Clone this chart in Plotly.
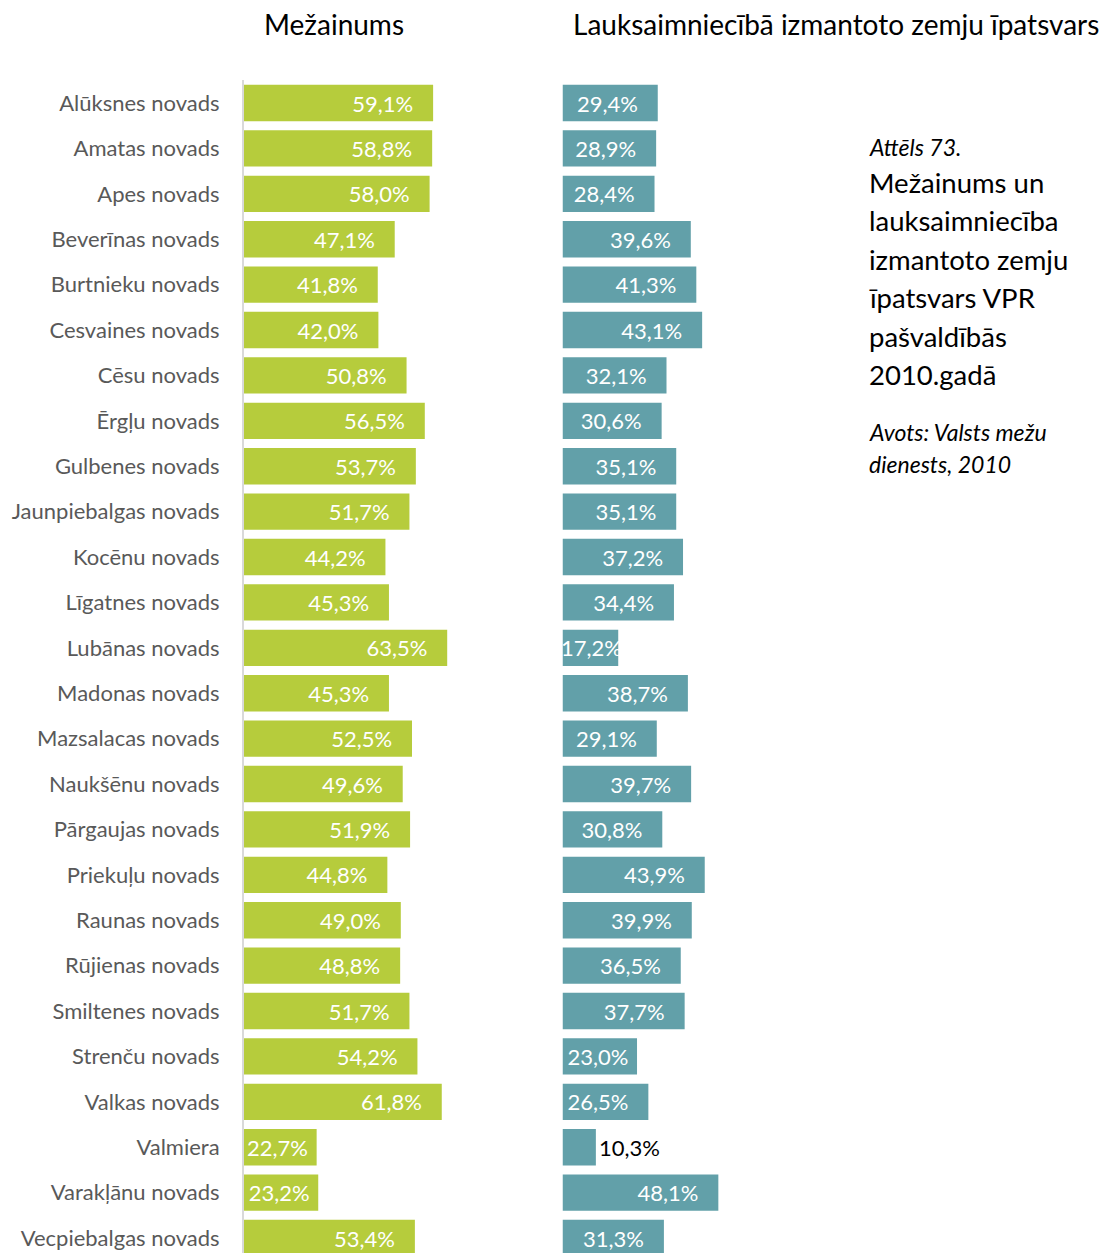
import plotly.graph_objects as go

categories = [
    "Alūksnes novads", "Amatas novads", "Apes novads", "Beverīnas novads",
    "Burtnieku novads", "Cesvaines novads", "Cēsu novads", "Ērgļu novads",
    "Gulbenes novads", "Jaunpiebalgas novads", "Kocēnu novads", "Līgatnes novads",
    "Lubānas novads", "Madonas novads", "Mazsalacas novads", "Naukšēnu novads",
    "Pārgaujas novads", "Priekuļu novads", "Raunas novads", "Rūjienas novads",
    "Smiltenes novads", "Strenču novads", "Valkas novads", "Valmiera",
    "Varakļānu novads", "Vecpiebalgas novads",
]
forest = [59.1, 58.8, 58.0, 47.1, 41.8, 42.0, 50.8, 56.5, 53.7, 51.7, 44.2, 45.3,
          63.5, 45.3, 52.5, 49.6, 51.9, 44.8, 49.0, 48.8, 51.7, 54.2, 61.8, 22.7,
          23.2, 53.4]
agri = [29.4, 28.9, 28.4, 39.6, 41.3, 43.1, 32.1, 30.6, 35.1, 35.1, 37.2, 34.4,
        17.2, 38.7, 29.1, 39.7, 30.8, 43.9, 39.9, 36.5, 37.7, 23.0, 26.5, 10.3,
        48.1, 31.3]

title_left = "Mežainums"
title_right = "Lauksaimniecībā izmantoto zemju īpatsvars"
caption_num = "Attēls 73."
caption_lines = ["Mežainums un", "lauksaimniecība", "izmantoto zemju",
                 "īpatsvars VPR", "pašvaldībās", "2010.gadā"]
source_lines = ["Avots: Valsts mežu", "dienests, 2010"]

# page is 1108x1253; the html body has an 8px margin
OFF = 8
FW, FH = 1108 - OFF, 1253 - OFF
TOP = 80 - OFF
FONT = "Lato"
GREEN = "#B6CC3C"
TEAL = "#62A0A9"
NB = "\u00a0"
VAL_SIZE = 22


def fmt(v):
    return f"{v:.1f}".replace(".", ",") + "%"


def px(xpage):
    return (xpage - OFF) / FW


def py(ypage):
    return (FH - (ypage - OFF)) / (FH - TOP)


def pad_for(v):
    return NB * (3 if v > 25 else 1)


left_text = [fmt(v) + pad_for(v) for v in forest]
# labels that fit inside / outside the bar; very narrow bars get an annotation
right_text = []
right_pos = []
narrow = []
for c, v in zip(categories, agri):
    if v < 15:
        right_text.append(fmt(v))
        right_pos.append("outside")
    elif v < 20:
        right_text.append("")
        right_pos.append("none")
        narrow.append((c, v))
    else:
        right_text.append(fmt(v) + pad_for(v))
        right_pos.append("inside")

fig = go.Figure()
fig.add_trace(go.Bar(
    y=categories, x=forest, orientation="h", xaxis="x", yaxis="y",
    marker=dict(color=GREEN, line=dict(width=0)),
    text=left_text, textposition="inside", insidetextanchor="end",
    textangle=0, constraintext="none",
    insidetextfont=dict(family=FONT, size=VAL_SIZE, color="white"),
    hoverinfo="skip", showlegend=False,
))
fig.add_trace(go.Bar(
    y=categories, x=agri, orientation="h", xaxis="x2", yaxis="y2",
    marker=dict(color=TEAL, line=dict(width=0)),
    text=right_text, textposition=right_pos, insidetextanchor="end",
    textangle=0, constraintext="none", cliponaxis=False,
    insidetextfont=dict(family=FONT, size=VAL_SIZE, color="white"),
    outsidetextfont=dict(family=FONT, size=VAL_SIZE, color="black"),
    hoverinfo="skip", showlegend=False,
))

n = len(categories)
yrange = [n - 0.67, -0.507]

fig.update_layout(
    width=FW, height=FH,
    margin=dict(l=0, r=0, t=TOP, b=0, pad=0),
    paper_bgcolor="white", plot_bgcolor="white",
    bargap=0.2,
    font=dict(family=FONT, color="#595959"),
    xaxis=dict(domain=[px(244), px(244) + 90 * 3.2 / FW], range=[0, 90],
               visible=False, fixedrange=True),
    xaxis2=dict(domain=[px(562.5), px(562.5) + 90 * 3.24 / FW], range=[0, 90],
                visible=False, anchor="y2", fixedrange=True),
    yaxis=dict(type="category", range=yrange, anchor="x",
               showline=True, linecolor="#D9D9D9", linewidth=2,
               showgrid=False, zeroline=False, ticks="",
               ticklabelstandoff=18,
               tickfont=dict(family=FONT, size=22, color="#595959")),
    yaxis2=dict(type="category", range=yrange, anchor="x2", matches="y",
                showline=False, showgrid=False, zeroline=False,
                showticklabels=False),
)

annotations = [
    dict(text=title_left, x=px(334), y=py(24), font=dict(size=28, color="black")),
    dict(text=title_right, x=px(836), y=py(24), font=dict(size=28, color="black")),
    dict(text="<i>" + caption_num + "</i>", x=px(870), y=py(147), xanchor="left",
         xshift=-3, font=dict(size=23, color="black")),
]
for i, line in enumerate(caption_lines):
    annotations.append(dict(text=line, x=px(870), y=py(182 + i * 38.6), xanchor="left",
                            xshift=-3, font=dict(size=27.5, color="black")))
for i, line in enumerate(source_lines):
    annotations.append(dict(text="<i>" + line + "</i>", x=px(870), y=py(432 + i * 32),
                            xanchor="left", xshift=-3,
                            font=dict(size=23, color="black")))

for a in annotations:
    a.setdefault("xanchor", "center")
    a.update(xref="paper", yref="paper", yanchor="middle", showarrow=False)
    a["font"]["family"] = FONT

for c, v in narrow:
    annotations.append(dict(text=fmt(v), x=0, y=c, xref="x2", yref="y2",
                            xanchor="left", yanchor="middle", showarrow=False,
                            xshift=-4,
                            font=dict(family=FONT, size=VAL_SIZE, color="white")))

fig.update_layout(annotations=annotations)
fig.write_html("out.html")
